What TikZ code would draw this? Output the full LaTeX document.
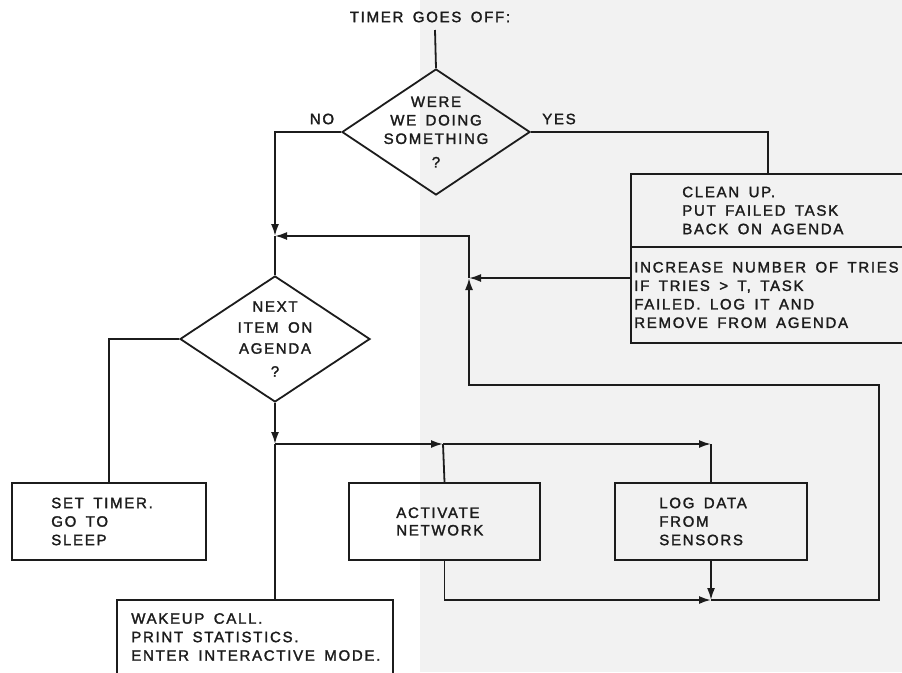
\documentclass[tikz,border=0pt]{standalone}
\usepackage{fontspec}
\newfontfamily\lblfont[LetterSpace=11.5,WordSpace=1.6,FakeBold=1.8]{Liberation Sans}
\usetikzlibrary{shapes.geometric,arrows.meta}
\definecolor{ink}{HTML}{1C1C1C}
\definecolor{paper}{HTML}{F2F2F2}
\begin{document}
\begin{tikzpicture}[x=1pt,y=-1pt,
  lbl/.style={font=\lblfont\fontsize{15}{18.5}\selectfont, text=ink},
  boxnode/.style={draw=ink, line width=1.8pt, rectangle, inner sep=0pt},
  boxtext/.style={lbl, align=left, anchor=west, inner sep=0pt, xshift=#1},
  dia/.style={draw=ink, line width=1.8pt, diamond, inner sep=0pt},
  conn/.style={draw=ink, line width=1.8pt},
  arr/.style={conn, -{Latex[length=12pt,width=8pt]}}]
\clip (0,0) rectangle (902,672);
\fill[white] (0,0) rectangle (420,672);
\fill[paper] (420,0) rectangle (902,672);

% title
\node[lbl] (title) at (430,17) {TIMER GOES OFF:};
\coordinate (t0) at (435,30);

% decision 1
\node[dia, minimum width=188, minimum height=126,
  label={[lbl,align=center]center:{WERE\\WE DOING\\SOMETHING\\[5pt]?}}] (d1) at (436,132) {};
\node[lbl] (no) at (322,119) {NO};
\node[lbl] (yes) at (559,119) {YES};

% clean-up box
\node[boxnode, minimum width=274, minimum height=73,
  label={[boxtext=52]west:{CLEAN UP.\\PUT FAILED TASK\\BACK ON AGENDA}}] (cleanA) at (768,210.5) {};
\node[boxnode, minimum width=274, minimum height=96,
  label={[boxtext=4]west:{INCREASE NUMBER OF TRIES\\IF TRIES > T, TASK\\FAILED. LOG IT AND\\REMOVE FROM AGENDA}}] (cleanB) at (768,295) {};

% decision 2
\node[dia, minimum width=190, minimum height=126,
  label={[lbl,align=center,font=\lblfont\fontsize{15}{21}\selectfont]center:{NEXT\\ITEM ON\\AGENDA\\[2pt]?}}] (d2) at (275,339) {};

% boxes
\node[boxnode, minimum width=194, minimum height=77,
  label={[boxtext=40]west:{SET TIMER.\\GO TO\\SLEEP}}] (settimer) at (109,521.5) {};
\node[boxnode, minimum width=191, minimum height=77,
  label={[boxtext=48,font=\lblfont\fontsize{15}{17.5}\selectfont]west:{ACTIVATE\\NETWORK}}] (activate) at (444.5,521.5) {};
\node[boxnode, minimum width=192, minimum height=77,
  label={[boxtext=45]west:{LOG DATA\\FROM\\SENSORS}}] (logdata) at (711,521.5) {};
\node[boxnode, minimum width=276, minimum height=74,
  label={[boxtext=15]west:{WAKEUP CALL.\\PRINT STATISTICS.\\ENTER INTERACTIVE MODE.}}] (wakeup) at (255,637) {};

% junctions
\coordinate (j1) at (275,236);
\coordinate (j2) at (469,278);
\coordinate (j3) at (275,444);
\coordinate (j4) at (443,444);
\coordinate (j6) at (711,444);
\coordinate (j5) at (711,600);
\coordinate (r1) at (879,385);

% connectors
\draw[conn] (t0) -- (d1.north);
\draw[arr] (d1.west) -| (j1);
\draw[conn] (j1) -- (d2.north);
\draw[conn] (d1.east) -| (cleanA.north);
\draw[arr] (cleanB.west |- j2) -- (j2);
\draw[arr] (j2) |- (j1);
\draw[arr] (j5) -| (r1) -| (j2);
\draw[conn] (d2.west) -| (settimer.north);
\draw[arr] (d2.south) -- (j3);
\draw[conn] (j3) -- (j3 |- wakeup.north);
\draw[arr] (j3) -- (j4);
\draw[conn] (j4) -- (activate.north);
\draw[arr] (j4) -- (j6);
\draw[conn] (j6) -- (logdata.north);
\draw[arr] (activate.south) |- (j5);
\draw[arr] (logdata.south) -- (j5);
\end{tikzpicture}
\end{document}
